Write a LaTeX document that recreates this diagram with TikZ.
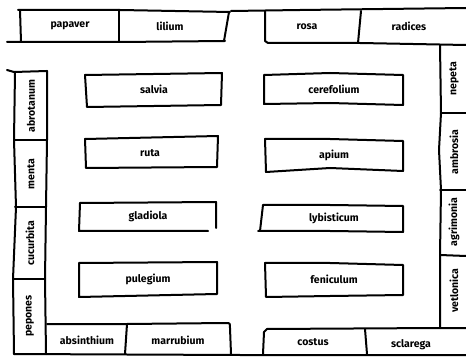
\documentclass[tikz,border=0pt]{standalone}
\usepackage{fontspec}
\newfontfamily\lblfont{Fira Sans}
\begin{document}
\begin{tikzpicture}[x=1pt,y=-1pt,
  wall/.style={line width=2pt, line cap=round, line join=round},
  lbl/.style={font=\lblfont\bfseries\fontsize{10.5}{12}\selectfont, inner sep=0pt},
  vlbl/.style={lbl, rotate=90}]
\fill[white] (0,0) rectangle (466,358);
\useasboundingbox (0,0) rectangle (466,358);

% ---- top strip, left ----
\draw[wall] (18,10) -- (120,10) -- (230,12);
\draw[wall] (7,42) -- (120,42) -- (225,41);
\draw[wall] (20,10) -- (21,42);
\draw[wall] (119,10) -- (119,42);
\draw[wall] (229,12) -- (224,41);
\node[lbl] (papaver) at (70,26) {papaver};
\node[lbl] (lilium) at (170,26) {lilium};

% ---- top strip, right ----
\draw[wall] (231,11) -- (300,10) -- (466,8);
\draw[wall] (265,11) -- (265,41) -- (268,43) -- (360,43) -- (466,45);
\draw[wall] (361,11) -- (358,43);
\node[lbl] (rosa) at (307,27) {rosa};
\node[lbl] (radices) at (409,26) {radices};

% ---- right column ----
\draw[wall] (440,45) -- (441,113) -- (439,150) -- (441,190) -- (440,255) -- (440,328);
\draw[wall] (441,113) -- (466,113);
\draw[wall] (440,190) -- (466,190);
\draw[wall] (440,255) -- (466,256);
\node[vlbl] (nepeta) at (454,79) {nepeta};
\node[vlbl] (ambrosia) at (454,152) {ambrosia};
\node[vlbl] (agrimonia) at (454,222) {agrimonia};
\node[vlbl] (vetlonica) at (454,291) {vetlonica};

% ---- bottom strip, right ----
\draw[wall] (263,354) -- (264,332) -- (267,329) -- (440,328) -- (466,328);
\draw[wall] (365,329) -- (367,354);
\node[lbl] (costus) at (313,342) {costus};
\node[lbl] (sclarega) at (411,345) {sclarega};

% ---- bottom line ----
\draw[wall] (14,354) -- (240,355) -- (466,355);

% ---- left column ----
\draw[wall] (7,70) -- (14,72) -- (47,71);
\draw[wall] (15,72) -- (14,140) -- (16,207) -- (13,279) -- (14,354);
\draw[wall] (47,71) -- (47,140) -- (46,207) -- (45,279) -- (46,354);
\draw[wall] (15,140) -- (47,140);
\draw[wall] (15,207) -- (46,207);
\draw[wall] (13,279) -- (45,279);
\node[vlbl] (abrotanum) at (31,106) {abrotanum};
\node[vlbl] (menta) at (31,174) {menta};
\node[vlbl] (cucurbita) at (30,243) {cucurbita};
\node[vlbl] (pepones) at (30,316) {pepones};

% ---- bottom strip, left ----
\draw[wall] (47,324) -- (127,324) -- (226,323) .. controls (230,323) .. (230,328) -- (231,354);
\draw[wall] (127,324) -- (125,354);
\node[lbl] (absinthium) at (87,340) {absinthium};
\node[lbl] (marrubium) at (178,340) {marrubium};

% ---- inner beds, left ----
\draw[wall] (85,75) -- (222,73) -- (221,105) -- (87,107) -- cycle;
\node[lbl] (salvia) at (154,89) {salvia};
\draw[wall] (85,139) -- (218,136) -- (217,167) -- (86,168) -- cycle;
\node[lbl] (ruta) at (150,153) {ruta};
\draw[wall] (80,203) -- (216,202) -- (216,228);
\draw[wall] (80,203) -- (79,231) -- (208,231);
\node[lbl] (gladiola) at (148,216) {gladiola};
\draw[wall] (79,263) -- (217,262) -- (217,294) -- (79,297) -- cycle;
\node[lbl] (pulegium) at (148,279) {pulegium};

% ---- inner beds, right ----
\draw[wall] (264,75) -- (330,73) -- (403,75) -- (403,105) -- (330,103) -- (264,104) -- cycle;
\node[lbl] (cerefolium) at (334,89) {cerefolium};
\draw[wall] (265,139) -- (330,139) -- (403,141) -- (403,171) -- (330,168) -- (266,172) -- cycle;
\node[lbl] (apium) at (334,155) {apium};
\draw[wall] (263,205) -- (330,205) -- (403,206) -- (403,232) -- (330,231) -- (258,231);
\draw[wall] (263,205) -- (260,231);
\node[lbl] (lybisticum) at (334,218) {lybisticum};
\draw[wall] (265,263) -- (330,263) -- (403,265) -- (403,295) -- (330,296) -- (266,297) -- cycle;
\node[lbl] (feniculum) at (334,279) {feniculum};
\end{tikzpicture}
\end{document}
